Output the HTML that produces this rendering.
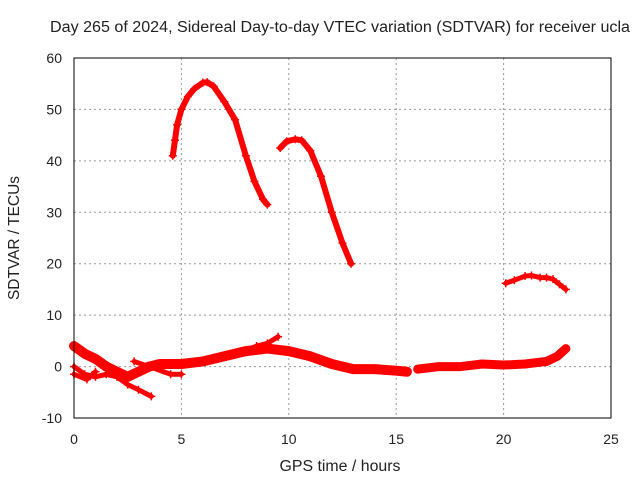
<!DOCTYPE html>
<html><head><meta charset="utf-8"><style>
body{margin:0;background:#fff;font-family:"Liberation Sans",sans-serif}
svg text{font-family:"Liberation Sans",sans-serif;font-size:14px;fill:#222}
</style></head><body>
<svg id="c" width="640" height="480">
<text x="340" y="32" text-anchor="middle" textLength="580" lengthAdjust="spacingAndGlyphs" style="font-size:15.5px">Day 265 of 2024, Sidereal Day-to-day VTEC variation (SDTVAR) for receiver ucla</text>
<g id="grid"></g><g id="marks"></g><g id="axes"></g>
<text x="340" y="471" text-anchor="middle" textLength="121" lengthAdjust="spacingAndGlyphs" style="font-size:15.5px">GPS time / hours</text>
<text transform="translate(19,238) rotate(-90)" text-anchor="middle" textLength="124" lengthAdjust="spacingAndGlyphs" style="font-size:15.5px">SDTVAR / TECUs</text>
</svg>
<script>
const xTicks=[0,5,10,15,20,25];
const yTicks=[-10,0,10,20,30,40,50,60];
const arc1Hours=[4.6,4.7,4.8,5.0,5.3,5.6,6.0,6.2,6.5,7.0,7.5,8.0,8.4,8.8,9.0];
const arc1Values=[41,44,47,50,52.5,54,55.2,55.3,54.5,51.5,48,41,36,32.5,31.5];
const arc2Hours=[9.6,9.9,10.3,10.6,11.0,11.5,12.0,12.5,12.9];
const arc2Values=[42.5,43.8,44.2,44,42,37,30,24,20];
const arc3Hours=[20.1,20.5,21.0,21.3,21.7,22.0,22.3,22.6,22.9];
const arc3Values=[16.2,16.8,17.6,17.7,17.3,17.3,17.0,16,15];
const band1Hours=[0,0.5,1,1.5,2,2.5,3,3.5,4,5,6,7,8,9,10,11,12,13,14,15,15.5];
const band1Values=[4,2.5,1.5,0,-1,-2,-1,0,0.5,0.5,1,2,3,3.5,3,2,0.5,-0.5,-0.5,-0.8,-1];
const band2Hours=[16,17,18,19,20,21,22,22.5,22.9];
const band2Values=[-0.5,0,0,0.5,0.3,0.5,1,2,3.5];
const band3Hours=[0,0.5,1,1.5,2,2.5,3,3.6];
const band3Values=[0,-1.5,-2,-1.5,-2,-3.5,-4.5,-5.8];
const band4Hours=[0,0.6,1];
const band4Values=[-1.5,-2.5,-1];
const band5Hours=[2.8,3.5,4.5,5];
const band5Values=[1,0,-1.5,-1.5];
const band6Hours=[8,8.5,9,9.5];
const band6Values=[3,4,4.5,5.8];
const X0=74,X1=611,Y0=418,Y1=58;
const sx=h=>X0+(h-0)/25*(X1-X0);
const sy=v=>Y0-(v+10)/70*(Y0-Y1);
const NS="http://www.w3.org/2000/svg";
const mk=(t,a,p)=>{const e=document.createElementNS(NS,t);for(const k in a)e.setAttribute(k,a[k]);p.appendChild(e);return e;};
const grid=document.getElementById('grid'),marks=document.getElementById('marks'),axes=document.getElementById('axes');
mk('rect',{x:X0,y:Y1,width:X1-X0,height:Y0-Y1,fill:'none',stroke:'#000','stroke-width':1},axes);
xTicks.forEach(t=>{const x=sx(t);
 if(t>0&&t<25){const g=mk('line',{x1:x,x2:x,y1:Y1,y2:Y0,stroke:'#999','stroke-dasharray':'2,3'},grid);
 
 }
 const l=mk('text',{x:x,y:Y0+26,'text-anchor':'middle'},axes);l.textContent=t;
 
 });
yTicks.forEach(t=>{const y=sy(t);
 if(t>-10&&t<60){const g=mk('line',{x1:X0,x2:X1,y1:y,y2:y,stroke:'#999','stroke-dasharray':'2,3'},grid);
 
 }
 const l=mk('text',{x:X0-12,y:y+5,'text-anchor':'end'},axes);l.textContent=t;
 
 });
function series(hs,vs,w,name){
 const pts=hs.map((h,i)=>sx(h)+','+sy(vs[i])).join(' ');
 const p=mk('polyline',{points:pts,fill:'none',stroke:'#f00','stroke-width':w,'stroke-linejoin':'round','stroke-linecap':'round'},marks);
 
 
 hs.forEach((h,i)=>{const x=sx(h),y=sy(vs[i]);
  const c=mk('path',{d:`M${x-4},${y}h8M${x},${y-4}v8`,stroke:'#f00','stroke-width':1.5},marks);
  
  });
}
series(arc1Hours,arc1Values,6,'arc-1');
series(arc2Hours,arc2Values,6,'arc-2');
series(arc3Hours,arc3Values,5,'arc-3');
series(band1Hours,band1Values,10,'band-1');
series(band2Hours,band2Values,9,'band-2');
series(band3Hours,band3Values,5,'band-3');
series(band4Hours,band4Values,5,'band-4');
series(band5Hours,band5Values,5,'band-5');
series(band6Hours,band6Values,5,'band-6');
</script>
</body></html>
